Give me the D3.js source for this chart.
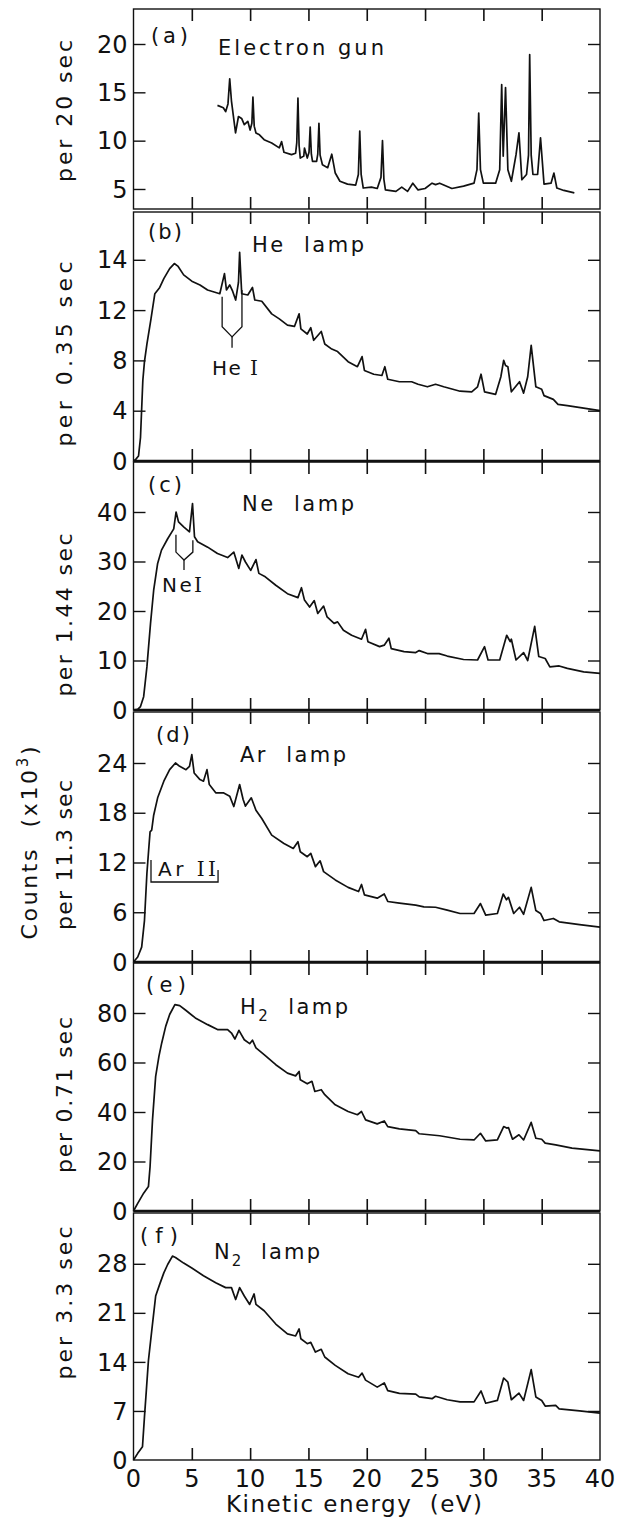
<!DOCTYPE html>
<html><head><meta charset="utf-8">
<script src="https://cdn.jsdelivr.net/npm/d3@7"></script>
<style>
body{margin:0;background:#fff}
text{font-family:"DejaVu Sans",sans-serif;fill:#111;white-space:pre}
</style>
</head><body>
<svg id="chart" width="628" height="1531"></svg>
<script>
// ---------------- DATA ----------------
const energyTicks = [0,5,10,15,20,25,30,35,40];
const energyTickLabels = ["0","5","10","15","20","25","30","35","40"];
const energyInnerTicks = [5,10,15,20,25,30,35];

// (a) Electron gun  [eV, counts x10^3]
const gunSpectrum = [[7.2,13.65],[7.7,13.4],[7.9,13.0],[8.1,13.8],[8.25,16.4],[8.4,14.1],[8.75,10.8],[9.0,12.5],[9.27,12.3],[9.5,11.65],[9.8,12.0],[10.0,11.1],[10.15,11.8],[10.24,14.5],[10.35,11.5],[10.5,10.8],[10.8,10.6],[11.2,10.1],[11.85,9.75],[12.5,9.25],[12.7,9.9],[12.9,8.8],[13.55,8.55],[13.9,8.7],[14.0,9.8],[14.1,14.4],[14.2,9.5],[14.3,8.2],[14.6,8.4],[14.66,9.24],[14.9,8.2],[15.05,8.8],[15.15,11.4],[15.25,8.6],[15.35,7.85],[15.7,7.85],[15.8,8.6],[15.9,11.8],[16.0,8.5],[16.2,7.5],[16.65,7.2],[17.0,8.6],[17.3,6.65],[17.7,5.8],[18.35,5.5],[19.05,5.4],[19.28,6.5],[19.4,11.0],[19.52,6.5],[19.7,5.1],[20.4,5.2],[20.9,5.05],[21.22,6.2],[21.35,10.0],[21.47,6.0],[21.6,4.9],[22.5,4.75],[23.0,5.2],[23.5,4.75],[23.95,5.6],[24.4,4.9],[25.0,5.05],[25.6,5.6],[25.9,5.45],[26.25,5.6],[27.3,5.05],[28.3,5.3],[29.2,5.6],[29.45,7.0],[29.6,12.85],[29.75,7.0],[30.0,5.6],[31.05,5.6],[31.4,7.0],[31.57,15.8],[31.7,8.4],[31.9,15.5],[32.1,7.0],[32.4,5.8],[32.8,8.55],[33.05,10.8],[33.3,5.95],[33.7,6.5],[33.87,8.5],[33.97,18.9],[34.1,8.5],[34.25,6.5],[34.65,6.5],[34.9,10.3],[35.2,5.5],[35.8,5.6],[36.05,6.65],[36.3,5.1],[36.9,4.85],[37.8,4.6]];

// (b) He lamp
const heSpectrum = [[0,0],[0.19,0.13],[0.43,0.4],[0.6,1.87],[0.8,6.4],[0.94,7.9],[1.15,9.3],[1.5,11.3],[1.83,13.3],[2.25,13.8],[2.6,14.5],[3.1,15.3],[3.5,15.7],[3.8,15.5],[4.3,14.8],[5.0,14.3],[5.7,14.0],[6.35,13.6],[7.4,13.3],[7.8,14.9],[7.97,13.6],[8.25,14.0],[8.5,13.5],[8.76,12.8],[9.0,14.2],[9.1,16.6],[9.28,13.3],[9.8,13.2],[10.2,13.8],[10.4,12.8],[11.0,12.7],[11.85,11.7],[12.5,11.3],[13.2,10.8],[13.8,10.7],[14.2,11.7],[14.35,10.5],[14.9,10.1],[15.2,10.6],[15.45,9.6],[16.1,10.3],[16.4,9.3],[17.0,8.9],[17.5,8.7],[18.4,7.9],[19.2,7.5],[19.6,8.3],[19.8,7.2],[20.6,6.9],[21.3,6.8],[21.55,7.5],[21.8,6.5],[22.8,6.3],[23.85,6.3],[24.4,6.1],[25.2,5.9],[25.9,6.1],[26.6,5.9],[28.0,5.55],[29.0,5.5],[29.5,5.9],[29.8,6.9],[30.1,5.5],[31.05,5.3],[31.5,6.7],[31.74,8.0],[31.9,7.6],[32.1,7.5],[32.4,5.5],[33.1,6.3],[33.45,5.4],[33.8,6.7],[34.1,9.2],[34.5,5.9],[35.0,5.7],[35.2,5.2],[36.0,4.9],[36.4,4.5],[37.2,4.4],[38.6,4.2],[40,4.0]];

// (c) Ne lamp
const neSpectrum = [[0,0],[0.36,0.13],[0.6,0.7],[0.87,2.7],[1.15,8.7],[1.46,17.5],[1.73,24.2],[2.07,29.6],[2.4,32.3],[2.93,34.6],[3.45,36.6],[3.65,40.0],[3.86,38.0],[4.3,37.0],[4.8,36.0],[5.06,41.7],[5.23,35.0],[5.5,34.0],[6.36,32.9],[7.2,31.6],[8.07,30.8],[8.6,31.9],[9.03,28.6],[9.3,31.3],[9.6,29.9],[10.05,28.2],[10.5,30.4],[10.75,27.6],[11.3,26.9],[12.2,25.2],[13.2,23.5],[14.1,22.7],[14.4,24.7],[14.66,22.2],[15.1,20.8],[15.5,22.1],[15.8,19.5],[16.3,21.0],[16.6,18.8],[17.2,17.5],[17.5,17.8],[18.0,16.1],[18.7,15.1],[19.55,14.3],[19.9,16.3],[20.1,13.8],[21.1,12.8],[21.5,13.1],[21.9,14.5],[22.1,12.4],[23.2,11.8],[24.2,11.6],[24.5,12.0],[25.2,11.4],[26.2,11.4],[26.9,10.9],[28.3,10.2],[29.5,10.1],[30.1,12.8],[30.4,10.1],[31.4,10.1],[32.0,15.1],[32.3,13.8],[32.4,14.3],[32.8,10.1],[33.45,11.6],[33.8,10.0],[34.4,16.9],[34.75,10.8],[35.3,10.4],[35.7,8.7],[36.5,8.9],[37.2,8.4],[38.6,7.7],[40,7.4]];

// (d) Ar lamp
const arSpectrum = [[0,0],[0.36,0.6],[0.7,1.8],[0.94,5.0],[1.15,10.7],[1.3,13.5],[1.42,15.7],[1.56,15.9],[1.73,17.7],[2.07,19.8],[2.6,21.8],[3.1,23.2],[3.6,24.0],[3.96,23.6],[4.5,23.2],[4.8,23.6],[5.0,25.0],[5.2,22.8],[5.7,22.0],[6.0,21.8],[6.3,23.2],[6.5,21.4],[7.05,20.4],[7.7,20.4],[8.25,20.0],[8.6,18.75],[9.1,21.4],[9.4,19.6],[9.6,18.8],[10.1,19.8],[10.5,18.3],[11.0,17.3],[11.85,15.3],[12.9,14.3],[13.7,13.7],[14.1,14.5],[14.3,13.3],[14.9,12.7],[15.2,13.1],[15.6,11.5],[16.0,12.2],[16.3,10.9],[17.3,9.9],[18.4,9.0],[19.3,8.5],[19.55,9.35],[19.8,8.1],[20.9,7.7],[21.5,8.2],[21.8,7.3],[22.8,7.1],[24.2,6.85],[24.9,6.65],[25.9,6.6],[26.9,6.25],[28.0,5.85],[29.2,5.85],[29.75,7.05],[30.2,5.65],[31.2,5.85],[31.7,8.2],[31.98,7.5],[32.15,7.8],[32.6,5.85],[33.1,6.6],[33.45,5.75],[34.1,9.0],[34.5,6.2],[34.9,5.85],[35.2,5.0],[36.0,5.25],[36.5,4.85],[38.25,4.5],[40,4.2]];

// (e) H2 lamp
const h2Spectrum = [[0,0],[0.36,3.1],[0.87,7.2],[1.28,9.85],[1.42,17.9],[1.63,36.8],[1.9,54.4],[2.18,62.5],[2.42,67.9],[2.76,74.6],[3.1,79.4],[3.55,83.4],[3.96,83.0],[4.48,81.1],[5.3,78.0],[6.36,75.3],[7.2,73.3],[8.07,73.3],[8.4,71.9],[8.7,69.5],[9.04,73.0],[9.5,69.2],[9.96,67.6],[10.2,69.0],[10.5,65.9],[11.2,63.2],[12.2,59.1],[13.2,55.7],[13.9,54.6],[14.2,56.4],[14.3,53.0],[14.9,51.4],[15.3,52.4],[15.55,48.3],[16.1,49.0],[16.4,47.0],[17.3,42.9],[18.4,40.2],[19.2,38.9],[19.55,40.2],[19.9,36.8],[20.9,35.2],[21.5,36.4],[21.8,34.1],[22.8,33.2],[24.2,32.5],[24.5,31.2],[26.25,30.4],[28.0,29.0],[29.2,28.7],[29.75,31.4],[30.2,28.3],[31.2,28.7],[31.74,34.1],[32.0,33.5],[32.15,33.7],[32.5,29.0],[33.05,30.8],[33.45,28.7],[34.1,35.8],[34.5,29.4],[35.0,29.0],[35.3,27.4],[36.2,26.7],[37.6,25.4],[40,24.3]];

// (f) N2 lamp
const n2Spectrum = [[0,0],[0.36,0.95],[0.77,1.9],[0.94,6.15],[1.1,9.9],[1.28,14.2],[1.56,18.4],[1.9,23.4],[2.25,25.1],[2.6,26.7],[2.93,27.9],[3.34,29.1],[3.6,28.9],[4.3,28.1],[5.0,27.4],[6.0,26.3],[7.05,25.3],[7.9,24.6],[8.4,24.6],[8.76,22.9],[9.1,24.6],[9.5,23.4],[9.96,22.2],[10.34,23.7],[10.5,22.2],[11.2,21.3],[12.2,19.4],[13.2,18.0],[13.9,17.7],[14.2,18.7],[14.35,17.3],[14.9,16.6],[15.2,16.8],[15.6,15.4],[16.1,15.8],[16.4,14.7],[17.3,13.5],[18.4,12.3],[19.3,11.8],[19.6,12.4],[19.9,11.4],[20.9,10.4],[21.5,11.0],[21.8,9.9],[22.8,9.5],[24.2,9.4],[24.5,9.0],[25.6,8.75],[25.9,9.1],[26.9,8.6],[28.0,8.3],[29.2,8.3],[29.8,9.85],[30.2,8.1],[31.2,8.5],[31.74,11.7],[32.1,11.1],[32.4,8.6],[33.05,9.55],[33.45,8.5],[34.1,12.9],[34.5,9.0],[35.0,8.5],[35.3,7.7],[36.2,7.8],[36.5,7.3],[38.25,7.0],[40,6.7]];

// y ticks per panel
const gunTicks = [5,10,15,20], gunTickLabels = ["5","10","15","20"];
const heTicks = [0,4,8,12,16], heTickLabels = ["0","4","8","12","14"];
const neTicks = [0,10,20,30,40], neTickLabels = ["0","10","20","30","40"];
const arTicks = [0,6,12,18,24], arTickLabels = ["0","6","12","18","24"];
const h2Ticks = [0,20,40,60,80], h2TickLabels = ["0","20","40","60","80"];
const n2Ticks = [0,7,14,21,28], n2TickLabels = ["0","7","14","21","28"];

// annotations in data units [eV, value]
const heIBracket = {left:7.6, right:9.3, mid:8.45, leftTop:13.06, rightTop:13.6, bottom:10.67, vertex:9.87, stem:9.0};
const neIBracket = {left:3.64, right:5.09, mid:4.33, leftTop:35.4, rightTop:34.3, bottom:31.9, vertex:30.3, stem:28.3};
const arIIBracket = {left:1.5, right:7.25, leftTop:12.3, rightTop:11.1, bottom:9.65};

// ---------------- LAYOUT ----------------
const X0 = 133.5, X1 = 600;
const panels = [
  {data:gunSpectrum, top:9, bottom:209, domain:[2.93,23.62], ticks:gunTicks, labels:gunTickLabels, thick:false,
   tag:"(a)", tagX:151, tagY:43, tagLen:37, title:["Electron gun"], titleX:218, titleY:55, titleLen:166,
   ytitle:"per 20 sec", ytY:111, ytLen:142},
  {data:heSpectrum, top:212, bottom:461, domain:[0,19.8], ticks:heTicks, labels:heTickLabels, thick:true,
   tag:"(b)", tagX:148, tagY:239, tagLen:34, title:["He  lamp"], titleX:252, titleY:252, titleLen:112,
   ytitle:"per 0.35 sec", ytY:354, ytLen:185},
  {data:neSpectrum, top:462, bottom:710, domain:[0,50.1], ticks:neTicks, labels:neTickLabels, thick:true,
   tag:"(c)", tagX:148, tagY:492, tagLen:34, title:["Ne  lamp"], titleX:242, titleY:511, titleLen:112,
   ytitle:"per 1.44 sec", ytY:615, ytLen:163},
  {data:arSpectrum, top:712, bottom:962, domain:[0,30.15], ticks:arTicks, labels:arTickLabels, thick:true,
   tag:"(d)", tagX:156, tagY:742, tagLen:34, title:["Ar  lamp"], titleX:240, titleY:762, titleLen:106,
   ytitle:"per 11.3 sec", ytY:855, ytLen:150},
  {data:h2Spectrum, top:963, bottom:1211, domain:[0,100.2], ticks:h2Ticks, labels:h2TickLabels, thick:true,
   tag:"(e)", tagX:146, tagY:992, tagLen:40, title:["H","2","  lamp"], titleX:240, titleY:1014, titleLen:108,
   ytitle:"per 0.71 sec", ytY:1095, ytLen:156},
  {data:n2Spectrum, top:1213, bottom:1460, domain:[0,35.25], ticks:n2Ticks, labels:n2TickLabels, thick:false,
   tag:"(f)", tagX:140, tagY:1243, tagLen:38, title:["N","2","  lamp"], titleX:214, titleY:1259, titleLen:106,
   ytitle:"per 3.3 sec", ytY:1303, ytLen:153}
];

const svg = d3.select("#chart");
svg.append("rect").attr("width",628).attr("height",1531).attr("fill","#fff");
const x = d3.scaleLinear().domain([0,40]).range([X0,X1]);

panels.forEach((p,i)=>{
  const y = d3.scaleLinear().domain(p.domain).range([p.bottom,p.top]);
  p.y = y;
  const g = svg.append("g");
  // frame
  g.append("rect").attr("x",X0).attr("y",p.top).attr("width",X1-X0).attr("height",p.bottom-p.top)
    .attr("fill","none").attr("stroke","#111").attr("stroke-width",1.4);
  if(p.thick){
    g.append("line").attr("x1",X0).attr("x2",X1).attr("y1",y(0)).attr("y2",y(0))
      .attr("stroke","#111").attr("stroke-width",2.6);
  }
  // x ticks top & bottom (inward)
  const top = d3.axisBottom(x).tickValues(energyInnerTicks).tickSize(12).tickFormat("");
  const bot = d3.axisTop(x).tickValues(energyInnerTicks).tickSize(12).tickFormat("");
  g.append("g").attr("transform",`translate(0,${p.top})`).call(top).call(s=>s.select(".domain").remove())
    .selectAll("line").attr("stroke","#111").attr("stroke-width",1.6);
  g.append("g").attr("transform",`translate(0,${p.bottom})`).call(bot).call(s=>s.select(".domain").remove())
    .selectAll("line").attr("stroke","#111").attr("stroke-width",1.6);
  // y ticks left (inward) with labels, right (inward)
  const inner = p.ticks.filter(t=>t>p.domain[0]+1e-9 && t<p.domain[1]);
  const left = d3.axisRight(y).tickValues(inner).tickSize(12).tickFormat("");
  const right = d3.axisLeft(y).tickValues(inner).tickSize(12).tickFormat("");
  g.append("g").attr("transform",`translate(${X0},0)`).call(left).call(s=>s.select(".domain").remove())
    .selectAll("line").attr("stroke","#111").attr("stroke-width",1.4);
  g.append("g").attr("transform",`translate(${X1},0)`).call(right).call(s=>s.select(".domain").remove())
    .selectAll("line").attr("stroke","#111").attr("stroke-width",1.4);
  g.selectAll(".ylab").data(p.ticks).join("text").attr("class","ylab")
    .attr("x",X0-6).attr("y",d=>y(d)).attr("dy","0.36em").attr("text-anchor","end")
    .attr("font-size",24).text((d,k)=>p.labels[k]);
  // curve
  const line = d3.line().x(d=>x(d[0])).y(d=>y(d[1]));
  g.append("path").datum(p.data).attr("d",line).attr("fill","none")
    .attr("stroke","#111").attr("stroke-width",1.7).attr("stroke-linejoin","round");
  // tag
  g.append("text").attr("x",p.tagX).attr("y",p.tagY).attr("font-size",21)
    .attr("textLength",p.tagLen).attr("lengthAdjust","spacing").text(p.tag);
  // title
  const t = g.append("text").attr("x",p.titleX).attr("y",p.titleY).attr("font-size",21)
    .attr("textLength",p.titleLen).attr("lengthAdjust","spacing");
  if(p.title.length===1){ t.text(p.title[0]); }
  else {
    t.append("tspan").text(p.title[0]);
    t.append("tspan").attr("dy",7).attr("font-size",15).text(p.title[1]);
    t.append("tspan").attr("dy",-7).text(p.title[2]);
  }
  // y title
  svg.append("text").attr("transform",`translate(72,${p.ytY}) rotate(-90)`)
    .attr("text-anchor","middle").attr("font-size",22)
    .attr("textLength",p.ytLen).attr("lengthAdjust","spacing").text(p.ytitle);
});

// Counts (x10^3)
const ct = svg.append("text").attr("transform","translate(37,843) rotate(-90)")
  .attr("text-anchor","middle").attr("font-size",22).attr("textLength",193).attr("lengthAdjust","spacing");
ct.append("tspan").text("Counts  (x10");
ct.append("tspan").attr("dy",-9).attr("font-size",15).text("3");
ct.append("tspan").attr("dy",9).text(")");

// x tick labels
svg.selectAll(".xlab").data(energyTicks).join("text").attr("class","xlab")
  .attr("x",d=>x(d)).attr("y",1487).attr("text-anchor","middle").attr("font-size",24)
  .text((d,k)=>energyTickLabels[k]);
svg.append("text").attr("x",354).attr("y",1512).attr("text-anchor","middle").attr("font-size",23)
  .attr("textLength",256).attr("lengthAdjust","spacing").text("Kinetic energy  (eV)");

// ---- annotations ----
const pb = panels[1], pc = panels[2], pd = panels[3];
function vBracket(p, b){
  const yb = p.y, pts = [
    [[b.left,b.leftTop],[b.left,b.bottom],[b.mid,b.vertex],[b.right,b.bottom],[b.right,b.rightTop]],
    [[b.mid,b.vertex],[b.mid,b.stem]]
  ];
  const ln = d3.line().x(d=>x(d[0])).y(d=>yb(d[1]));
  pts.forEach(q=>svg.append("path").attr("d",ln(q)).attr("fill","none").attr("stroke","#111").attr("stroke-width",1.3));
}
vBracket(pb, heIBracket);
vBracket(pc, neIBracket);
{
  const b = arIIBracket, ln = d3.line().x(d=>x(d[0])).y(d=>pd.y(d[1]));
  svg.append("path").attr("d",ln([[b.left,b.leftTop],[b.left,b.bottom],[b.right,b.bottom],[b.right,b.rightTop]]))
    .attr("fill","none").attr("stroke","#111").attr("stroke-width",1.3);
}
function roman(xp, yp, pre, numeral, len){
  const t = svg.append("text").attr("x",xp).attr("y",yp).attr("font-size",20)
    .attr("textLength",len).attr("lengthAdjust","spacing");
  t.append("tspan").text(pre);
  t.append("tspan").style("font-family","'DejaVu Serif',serif").text(numeral);
}
roman(212, 375, "He ", "I", 46);
roman(162, 592, "Ne", "I", 40);
roman(158, 876, "Ar ", "II", 58);
</script>
</body></html>
